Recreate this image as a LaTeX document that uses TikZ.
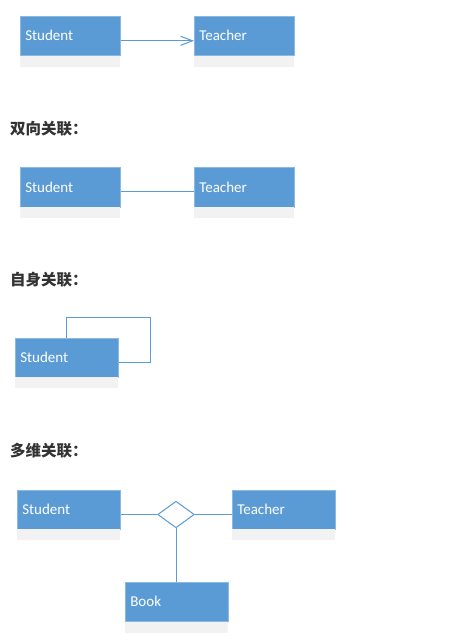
\documentclass[tikz,border=0pt]{standalone}
\usepackage{fontspec}
\setmainfont{Carlito}
\newfontfamily\cjk{Noto Sans CJK SC}
\usetikzlibrary{arrows.meta,shapes.geometric}
\definecolor{umlblue}{HTML}{5B9BD5}
\definecolor{umlshade}{HTML}{F2F2F2}
\definecolor{headtext}{HTML}{333333}
\tikzset{
  classbox/.style={fill=umlblue, draw=umlblue!70!white, line width=0.6bp,
    text=white, font=\fontsize{15bp}{18bp}\selectfont,
    text width=90bp, align=left, inner xsep=5bp, inner ysep=0pt,
    minimum height=39bp, anchor=north west},
  heading/.style={anchor=west, inner sep=0pt, text=headtext,
    font=\cjk\bfseries\fontsize{15.5bp}{18bp}\selectfont},
  assoc/.style={draw=umlblue, line width=1bp},
  relation/.style={diamond, draw=umlblue, fill=white, line width=1bp,
    minimum width=36.6bp, minimum height=26.6bp, inner sep=0pt}
}
% grey strip under a class box
\newcommand{\classshade}[2][100]{\fill[umlshade] (#2.south west) rectangle ++(#1,11);}
\begin{document}
\begin{tikzpicture}[x=1bp,y=-1bp]
\useasboundingbox[fill=white] (0,0) rectangle (458,644);

% directed association
\node[classbox] (s1) at (20,16) {Student};
\node[classbox] (t1) at (194,16) {Teacher};
\classshade{s1}\classshade{t1}
\draw[assoc, -{Straight Barb[length=12bp,width=9bp,line width=1bp]}] (s1.east) ++(0,5) coordinate (a1) -- (a1 -| t1.west);

% bidirectional association
\node[heading] (h2) at (10,129) {双向关联：};
\node[classbox] (s2) at (20,167.5) {Student};
\node[classbox] (t2) at (194,167.5) {Teacher};
\classshade{s2}\classshade{t2}
\draw[assoc] (s2.east) ++(0,4.5) coordinate (a2) -- (a2 -| t2.west);

% self association
\node[heading] (h3) at (10,280) {自身关联：};
\node[classbox, text width=93bp] (s3) at (15,337.5) {Student};
\classshade[103]{s3}
\coordinate (loopA) at (66,317);
\coordinate (loopB) at (150,362.5);
\draw[assoc] (s3.north -| loopA) -- (loopA) -| (loopB) -- (loopB -| s3.east);

% n-ary association
\node[heading] (h4) at (10,451) {多维关联：};
\node[classbox, text width=93bp] (s4) at (17,489.5) {Student};
\node[classbox, text width=93bp] (t4) at (232,489.5) {Teacher};
\node[classbox, text width=93bp] (b4) at (125,582) {Book};
\classshade[103]{s4}\classshade[103]{t4}\classshade[103]{b4}
\node[relation] (r4) at (176,514.5) {};
\draw[assoc] (r4.west -| s4.east) -- (r4.west);
\draw[assoc] (r4.east) -- (r4.east -| t4.west);
\draw[assoc] (r4.south) -- (r4.south |- b4.north);
\end{tikzpicture}
\end{document}
